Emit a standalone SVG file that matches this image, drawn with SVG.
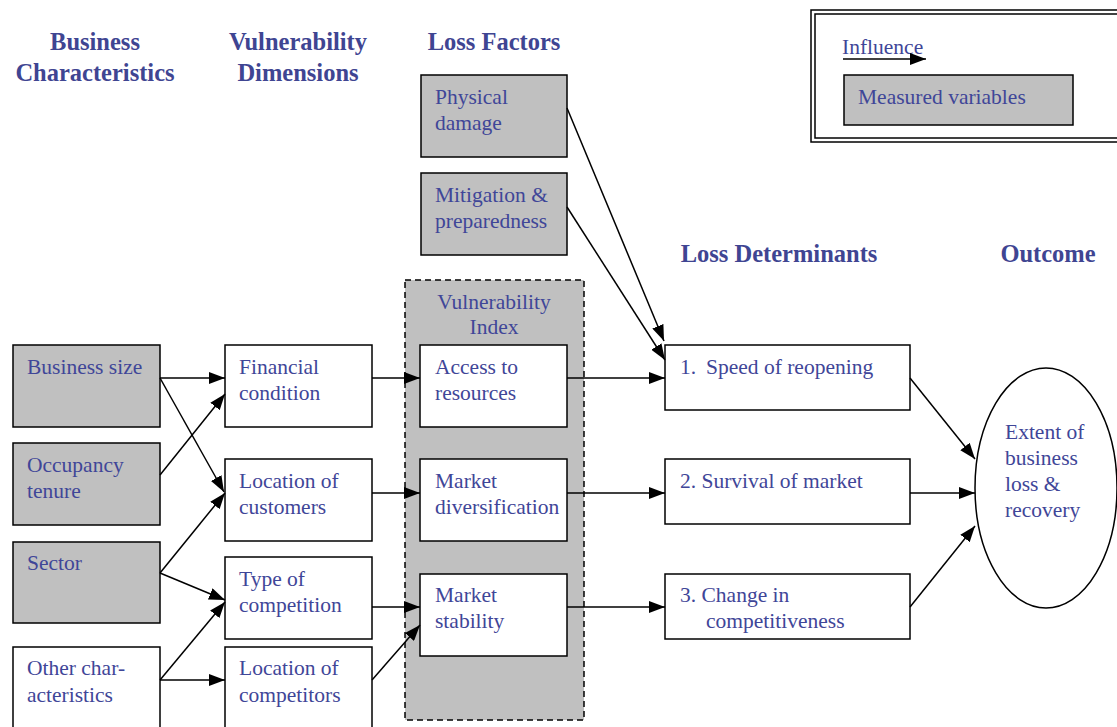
<svg xmlns="http://www.w3.org/2000/svg" width="1117" height="727" viewBox="0 0 1117 727">
<defs>
<marker id="ah" markerWidth="16" markerHeight="12" refX="16" refY="6" orient="auto" markerUnits="userSpaceOnUse">
<path d="M0,0 L16,6 L0,12 Z" fill="#000"/>
</marker>
<style>
.hd{font-family:"Liberation Serif",serif;font-weight:bold;font-size:24.5px;fill:#3f4592}
.t{font-family:"Liberation Serif",serif;font-size:21.5px;fill:#3f4698}
.g{fill:#c0c0c0;stroke:#000;stroke-width:1.5}
.w{fill:#fff;stroke:#000;stroke-width:1.5}
.c{fill:none;stroke:#000;stroke-width:1.5;marker-end:url(#ah)}
</style>
</defs>
<rect width="1117" height="727" fill="#fff"/>
<g id="headers">
<text class="hd" x="95" y="50" text-anchor="middle">Business</text>
<text class="hd" x="95" y="81" text-anchor="middle">Characteristics</text>
<text class="hd" x="298" y="50" text-anchor="middle">Vulnerability</text>
<text class="hd" x="298" y="81" text-anchor="middle">Dimensions</text>
<text class="hd" x="494" y="50" text-anchor="middle">Loss Factors</text>
<text class="hd" x="779" y="262" text-anchor="middle">Loss Determinants</text>
<text class="hd" x="1048" y="262" text-anchor="middle">Outcome</text>
</g>
<g id="legend">
<rect x="811" y="10" width="320" height="132" fill="none" stroke="#000" stroke-width="1.5"/>
<rect x="815" y="14" width="320" height="124" fill="none" stroke="#000" stroke-width="1.5"/>
<text class="t" x="842" y="54">Influence</text>
<line x1="843" y1="59" x2="926" y2="59" class="c"/>
<rect class="g" x="844" y="75" width="229" height="50"/>
<text class="t" x="858" y="104">Measured variables</text>
</g>
<g id="vuln-index">
<rect x="405" y="280" width="179" height="440" fill="#c0c0c0" stroke="#000" stroke-width="1.5" stroke-dasharray="6,4"/>
<text class="t" x="494" y="309" text-anchor="middle">Vulnerability</text>
<text class="t" x="494" y="334" text-anchor="middle">Index</text>
</g>
<g id="business-size"><rect class="g" x="13" y="345" width="147" height="82"/><text class="t" x="27" y="374">Business size</text></g>
<g id="occupancy-tenure"><rect class="g" x="13" y="443" width="147" height="82"/><text class="t" x="27" y="472">Occupancy</text><text class="t" x="27" y="498">tenure</text></g>
<g id="sector"><rect class="g" x="13" y="542" width="147" height="81"/><text class="t" x="27" y="570">Sector</text></g>
<g id="other-characteristics"><rect class="w" x="13" y="647" width="147" height="85"/><text class="t" x="27" y="675">Other char-</text><text class="t" x="27" y="702">acteristics</text></g>
<g id="financial-condition"><rect class="w" x="225" y="345" width="147" height="82"/><text class="t" x="239" y="374">Financial</text><text class="t" x="239" y="400">condition</text></g>
<g id="location-customers"><rect class="w" x="225" y="459" width="147" height="82"/><text class="t" x="239" y="488">Location of</text><text class="t" x="239" y="514">customers</text></g>
<g id="type-competition"><rect class="w" x="225" y="557" width="147" height="82"/><text class="t" x="239" y="586">Type of</text><text class="t" x="239" y="612">competition</text></g>
<g id="location-competitors"><rect class="w" x="225" y="647" width="147" height="85"/><text class="t" x="239" y="675">Location of</text><text class="t" x="239" y="702">competitors</text></g>
<g id="physical-damage"><rect class="g" x="421" y="75" width="146" height="82"/><text class="t" x="435" y="104">Physical</text><text class="t" x="435" y="130">damage</text></g>
<g id="mitigation"><rect class="g" x="421" y="173" width="146" height="82"/><text class="t" x="435" y="202">Mitigation &amp;</text><text class="t" x="435" y="228">preparedness</text></g>
<g id="access-resources"><rect class="w" x="420" y="345" width="147" height="82"/><text class="t" x="435" y="374">Access to</text><text class="t" x="435" y="400">resources</text></g>
<g id="market-diversification"><rect class="w" x="420" y="459" width="147" height="82"/><text class="t" x="435" y="488">Market</text><text class="t" x="435" y="514">diversification</text></g>
<g id="market-stability"><rect class="w" x="420" y="574" width="147" height="82"/><text class="t" x="435" y="602">Market</text><text class="t" x="435" y="628">stability</text></g>
<g id="speed-reopening"><rect class="w" x="665" y="345" width="245" height="65"/><text class="t" x="680" y="374">1.<tspan x="706">Speed of reopening</tspan></text></g>
<g id="survival-market"><rect class="w" x="665" y="459" width="245" height="65"/><text class="t" x="680" y="488">2. Survival of market</text></g>
<g id="change-competitiveness"><rect class="w" x="665" y="574" width="245" height="65"/><text class="t" x="680" y="602">3. Change in</text><text class="t" x="706" y="628">competitiveness</text></g>
<g id="outcome"><ellipse cx="1046" cy="488" rx="71" ry="120" fill="#fff" stroke="#000" stroke-width="1.5"/><text class="t" x="1005" y="439">Extent of</text><text class="t" x="1005" y="465">business</text><text class="t" x="1005" y="491">loss &amp;</text><text class="t" x="1005" y="517">recovery</text></g>
<g id="connectors">
<line class="c" x1="160" y1="378" x2="225" y2="378"/>
<line class="c" x1="160" y1="378" x2="224" y2="492"/>
<line class="c" x1="160" y1="475" x2="225" y2="394"/>
<line class="c" x1="160" y1="573" x2="225" y2="493"/>
<line class="c" x1="160" y1="573" x2="225" y2="600"/>
<line class="c" x1="160" y1="680" x2="225" y2="602"/>
<line class="c" x1="160" y1="680" x2="225" y2="680"/>
<line class="c" x1="372" y1="378" x2="420" y2="378"/>
<line class="c" x1="372" y1="493" x2="420" y2="493"/>
<line class="c" x1="372" y1="607" x2="420" y2="607"/>
<line class="c" x1="372" y1="680" x2="420" y2="625"/>
<line class="c" x1="567" y1="378" x2="665" y2="378"/>
<line class="c" x1="567" y1="493" x2="665" y2="493"/>
<line class="c" x1="567" y1="607" x2="665" y2="607"/>
<line class="c" x1="567" y1="108" x2="664" y2="341"/>
<line class="c" x1="567" y1="207" x2="665" y2="360"/>
<line class="c" x1="910" y1="378" x2="975" y2="459"/>
<line class="c" x1="910" y1="493" x2="975" y2="493"/>
<line class="c" x1="910" y1="607" x2="975" y2="526"/>
</g>
</svg>
